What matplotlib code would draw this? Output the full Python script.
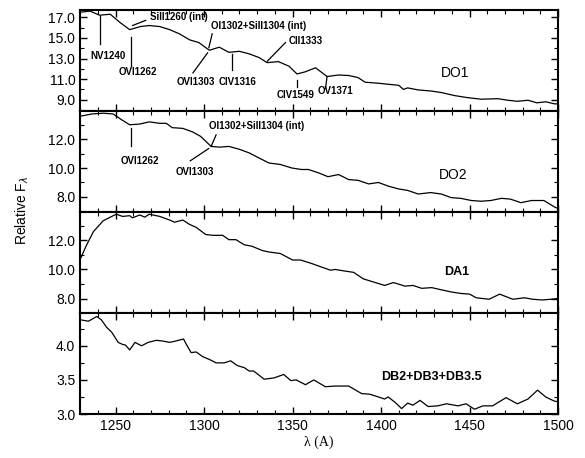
import matplotlib
matplotlib.use("Agg")
import matplotlib.pyplot as plt
from matplotlib.ticker import MultipleLocator, FormatStrFormatter

plt.rcParams['font.family'] = ['Liberation Sans', 'DejaVu Sans']

# ---------------- data ----------------
do1_wl = [1230.4, 1235.6, 1241, 1247, 1252.5, 1258, 1264, 1269, 1275, 1280.6, 1286, 1292, 1297,
          1303, 1308.6, 1314, 1320, 1325.5, 1331, 1335.6, 1342, 1348, 1352.5, 1357, 1363,
          1369.5, 1376, 1381.7, 1387, 1391, 1398.5, 1404, 1410, 1412.6, 1415, 1421, 1428, 1434,
          1441.6, 1449, 1456.6, 1466, 1471.6, 1477, 1483, 1488, 1493, 1498, 1500]
do1_fl = [17.5, 17.6, 17.2, 17.3, 16.5, 15.8, 16.1, 16.2, 16.1, 15.8, 15.4, 14.8, 14.55,
          13.8, 14.1, 13.6, 13.7, 13.45, 13.1, 12.6, 12.7, 12.25, 11.5, 11.7, 12.1,
          11.25, 11.4, 11.35, 11.15, 10.7, 10.6, 10.5, 10.4, 10.0, 10.15, 9.95, 9.85, 9.7,
          9.4, 9.2, 9.05, 9.1, 8.95, 8.85, 8.95, 8.7, 8.8, 8.6, 8.6]

do2_wl = [1230.4, 1236.6, 1243, 1248.6, 1253.4, 1258, 1263.7, 1269, 1275, 1278.7, 1282, 1288,
          1293.6, 1298, 1304, 1308.7, 1314, 1320, 1325.5, 1331, 1336.7, 1343, 1349.7, 1355,
          1359, 1365, 1370, 1376, 1381.7, 1387, 1393, 1398.5, 1404, 1410, 1415, 1421, 1428,
          1434, 1439.6, 1445, 1451, 1456.6, 1462, 1468, 1473, 1479, 1485, 1492, 1498, 1500]
do2_fl = [13.6, 13.75, 13.8, 13.75, 13.35, 13.0, 13.05, 13.2, 13.1, 13.1, 12.8, 12.75,
          12.5, 12.2, 11.5, 11.45, 11.5, 11.3, 11.05, 10.7, 10.35, 10.25, 10.0, 9.9,
          9.9, 9.65, 9.4, 9.55, 9.2, 9.15, 8.9, 9.0, 8.75, 8.55, 8.45, 8.2, 8.3,
          8.2, 7.95, 7.9, 7.75, 7.7, 7.75, 7.9, 7.85, 7.6, 7.75, 7.75, 7.3, 7.2]

da1_wl = [1230.4, 1233.7, 1237.5, 1243, 1248.7, 1250.5, 1254, 1258, 1259.5, 1263.7, 1266.5,
          1269, 1275, 1280.6, 1283.4, 1288, 1291.8, 1295.5, 1301, 1305, 1310.5, 1314, 1318,
          1322.7, 1327, 1333, 1336.7, 1343, 1350, 1354.5, 1361, 1366.7, 1371.4, 1374, 1379,
          1384.5, 1390, 1396.7, 1402, 1407, 1413.5, 1418, 1423, 1428.6, 1434, 1439.7, 1445,
          1450, 1453.8, 1461, 1467, 1474.4, 1481, 1485.6, 1491, 1496, 1500]
da1_fl = [10.8, 11.7, 12.6, 13.35, 13.7, 13.8, 13.65, 13.7, 13.55, 13.75, 13.6,
          13.8, 13.65, 13.4, 13.25, 13.4, 13.1, 12.9, 12.4, 12.35, 12.35, 12.05, 12.05,
          11.7, 11.6, 11.3, 11.2, 11.1, 10.65, 10.65, 10.4, 10.15, 9.95, 10.0, 9.9,
          9.8, 9.35, 9.1, 8.9, 9.1, 8.85, 8.9, 8.7, 8.75, 8.6, 8.45, 8.35,
          8.3, 8.05, 7.95, 8.3, 7.95, 8.05, 7.95, 7.9, 7.95, 8.0]

db_wl = [1230.4, 1234.7, 1239.4, 1242, 1245, 1247.8, 1251.5, 1254, 1255.6, 1258, 1261, 1264.7,
         1268.4, 1273, 1276.6, 1280.6, 1284, 1288.4, 1290, 1292.7, 1295.5, 1299.3, 1303,
         1306.8, 1311.4, 1315, 1318.8, 1322.7, 1325.5, 1328, 1334, 1339.6, 1345, 1349, 1352,
         1357.3, 1362, 1368.5, 1374, 1381.7, 1389, 1393.7, 1398.5, 1402, 1404, 1408, 1411.6,
         1415, 1418, 1422, 1426.6, 1432, 1437, 1443.5, 1448, 1452.8, 1457.5, 1463, 1470.6,
         1477, 1483, 1488.4, 1493, 1497.8, 1500]
db_fl = [4.38, 4.36, 4.43, 4.38, 4.27, 4.2, 4.05, 4.02, 4.01, 3.94, 4.05, 4.0,
         4.05, 4.08, 4.07, 4.05, 4.07, 4.1, 4.02, 3.9, 3.91, 3.84, 3.8,
         3.75, 3.75, 3.78, 3.71, 3.68, 3.63, 3.63, 3.51, 3.53, 3.58, 3.49, 3.5,
         3.43, 3.5, 3.4, 3.41, 3.41, 3.3, 3.29, 3.25, 3.22, 3.25, 3.17, 3.08,
         3.16, 3.13, 3.2, 3.11, 3.12, 3.15, 3.12, 3.15, 3.07, 3.12, 3.12, 3.24,
         3.15, 3.22, 3.35, 3.25, 3.19, 3.18]

panel_names = ["DO1", "DO2", "DA1", "DB2+DB3+DB3.5"]

# line annotations: (text, text_xy, line_start, line_end, ha)
do1_lines = [
    ("NV1240", (1245.7, 13.2), (1241, 17.1), (1241, 14.4), "center"),
    ("OVI1262", (1262.6, 11.7), (1258.6, 15.05), (1258.6, 12.25), "center"),
    ("SiII1260 (int)", (1269.7, 17.0), (1259.6, 16.2), (1267, 16.7), "left"),
    ("OI1302+SiII1304 (int)", (1304, 16.2), (1302.7, 14.05), (1304.6, 15.4), "left"),
    ("OVI1303", (1295.5, 10.7), (1302, 13.55), (1293.7, 11.6), "center"),
    ("CIV1316", (1319, 10.7), (1315.8, 13.4), (1315.8, 11.9), "center"),
    ("CII1333", (1348, 14.7), (1335.8, 12.75), (1346, 14.55), "left"),
    ("CIV1549", (1351.7, 9.45), (1352.3, 10.9), (1352.3, 10.25), "center"),
    ("OV1371", (1374, 9.85), (1369.5, 11.25), (1368.6, 10.1), "center"),
]
do2_lines = [
    ("OVI1262", (1263.7, 10.5), (1259, 12.8), (1259, 11.5), "center"),
    ("OI1302+SiII1304 (int)", (1302.6, 12.9), (1304, 11.5), (1306.8, 12.3), "left"),
    ("OVI1303", (1294.6, 9.75), (1302.6, 11.35), (1292.2, 10.5), "center"),
]

# ---------------- figure ----------------
fig = plt.figure(figsize=(5.85, 4.58), dpi=100)
gs = fig.add_gridspec(4, 1, left=0.137, right=0.954, top=0.978, bottom=0.096, hspace=0)
axes = [fig.add_subplot(gs[i]) for i in range(4)]

series = [(do1_wl, do1_fl), (do2_wl, do2_fl), (da1_wl, da1_fl), (db_wl, db_fl)]
ylims = [(7.9, 17.7), (6.95, 13.95), (7.0, 13.95), (3.0, 4.48)]
ymaj = [2.0, 2.0, 2.0, 0.5]
ymin = [1.0, 1.0, 1.0, 0.25]
ytick_start = [9.0, 8.0, 8.0, 3.0]

for i, ax in enumerate(axes):
    wl, fl = series[i]
    ax.plot(wl, fl, color='black', lw=0.9)
    ax.set_xlim(1230, 1500)
    ax.set_ylim(*ylims[i])
    ax.xaxis.set_major_locator(MultipleLocator(50))
    ax.xaxis.set_minor_locator(MultipleLocator(10))
    ax.yaxis.set_major_locator(MultipleLocator(ymaj[i], offset=ytick_start[i] % ymaj[i]))
    ax.yaxis.set_minor_locator(MultipleLocator(ymin[i]))
    ax.yaxis.set_major_formatter(FormatStrFormatter('%.1f'))
    ax.tick_params(which='both', direction='in', top=True, right=True, labelsize=10)
    ax.tick_params(which='major', length=5, width=1)
    ax.tick_params(which='minor', length=3, width=0.8)
    for s in ax.spines.values():
        s.set_linewidth(1.5)
    if i < 3:
        ax.tick_params(labelbottom=False)

for lines, ax in ((do1_lines, axes[0]), (do2_lines, axes[1])):
    for txt, txy, p0, p1, ha in lines:
        ax.plot([p0[0], p1[0]], [p0[1], p1[1]], color='black', lw=0.9)
        ax.text(txy[0], txy[1], txt, ha=ha, va='center', fontsize=7, fontweight='bold')

axes[0].text(1441.6, 11.6, panel_names[0], ha='center', va='center', fontsize=10)
axes[1].text(1440.7, 9.5, panel_names[1], ha='center', va='center', fontsize=10)
axes[2].text(1442.5, 9.85, panel_names[2], ha='center', va='center', fontsize=9, fontweight='bold')
axes[3].text(1428.5, 3.54, panel_names[3], ha='center', va='center', fontsize=9, fontweight='bold')

axes[3].set_xlabel('\u03bb (A)', family=['Liberation Serif', 'DejaVu Serif'],
                   fontsize=10, labelpad=2)
fig.text(0.038, 0.54, r'Relative F$_\lambda$', rotation=90, ha='center', va='center', fontsize=10)

fig.savefig('out.png', dpi=100)
